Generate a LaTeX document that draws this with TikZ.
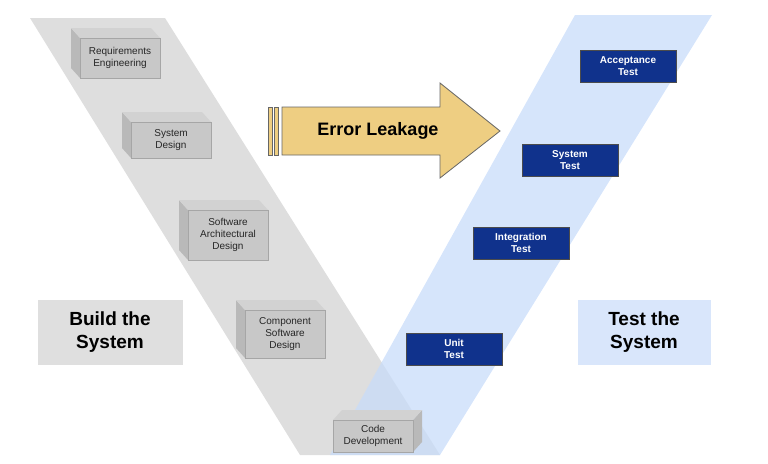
\documentclass[tikz,border=0pt]{standalone}
\usepackage{fontspec}
\setmainfont{Liberation Sans}
\usetikzlibrary{positioning}

\definecolor{bandgray}{RGB}{222,222,222}
\definecolor{bandblue}{RGB}{200,220,250}
\definecolor{boxgray}{RGB}{200,200,200}
\definecolor{testblue}{RGB}{16,50,140}
\definecolor{arrowfill}{RGB}{238,206,130}

\tikzset{
  phase/.style = {minimum width=80pt, minimum height=40pt, inner sep=0pt,
    font=\fontsize{10}{12}\selectfont, align=center, fill=boxgray,
    draw=gray!70, text=black!85},
  testbox/.style = {minimum width=96pt, minimum height=32pt, inner sep=0pt,
    font=\bfseries\fontsize{10}{12}\selectfont, align=center, text=white,
    fill=testblue, draw=black!70, line width=0.8pt},
  sidebox/.style = {minimum width=140pt, minimum height=65pt, align=center,
    font=\bfseries\fontsize{19}{23}\selectfont}
}

\begin{document}
\begin{tikzpicture}[x=1pt, y=-1pt]
    \useasboundingbox (0,0) rectangle (768,463);

    % the two legs of the V
    \fill[bandgray] (30,18) -- (165,18) -- (440,455) -- (300,455) -- cycle;
    \fill[bandblue, opacity=0.75] (575,15) -- (712,15) -- (440,455) -- (330,455) -- cycle;

    % design phases (drawn as blocks)
    \foreach \name/\x/\y/\h/\txt in {req/120/58/40/{Requirements\\Engineering},
        sysd/171/140/36/{System\\Design},
        arch/228/235/50/{Software\\Architectural\\Design},
        comp/285/334/48/{Component\\Software\\Design}} {
      \fill[gray!55] (\x-40,\y-\h/2) -- ++(-9,-10) -- ++(0,\h) -- ++(9,10) -- cycle;
      \fill[gray!35] (\x-40,\y-\h/2) -- ++(-9,-10) -- ++(80,0) -- ++(9,10) -- cycle;
      \node (\name) [phase, minimum height=\h pt] at (\x,\y) {\txt};
    }

    \fill[gray!55] (413,420) -- ++(9,-10) -- ++(0,32) -- ++(-9,10) -- cycle;
    \fill[gray!35] (333,420) -- ++(9,-10) -- ++(80,0) -- ++(-9,10) -- cycle;
    \node (code) [phase, minimum height=32pt] at (373,436) {Code\\Development};

    % test phases
    \node (acc) [testbox] at (628,66) {Acceptance\\Test};
    \node (syst) [testbox] at (570,160) {System\\Test};
    \node (integ) [testbox] at (521,243) {Integration\\Test};
    \node (unit) [testbox] at (454,349) {Unit\\Test};

    % side labels
    \node (build) [sidebox, fill=gray!25, minimum width=145pt] at (110,332) {Build the\\System};
    \node (testsys) [sidebox, fill=bandblue!70, minimum width=133pt] at (644,332) {Test the\\System};

    % leakage arrow
    \draw[fill=arrowfill, draw=black!60, line width=0.8pt]
      (282,107) -- (440,107) -- (440,83) -- (500,131) -- (440,178)
      -- (440,155) -- (282,155) -- cycle;
    \draw[fill=arrowfill, draw=black!60, line width=0.8pt] (268,107) rectangle (272,155);
    \draw[fill=arrowfill, draw=black!60, line width=0.8pt] (274,107) rectangle (278,155);
    \node (leak) [font=\bfseries\fontsize{18}{22}\selectfont] at (378,131) {Error Leakage};
\end{tikzpicture}
\end{document}
